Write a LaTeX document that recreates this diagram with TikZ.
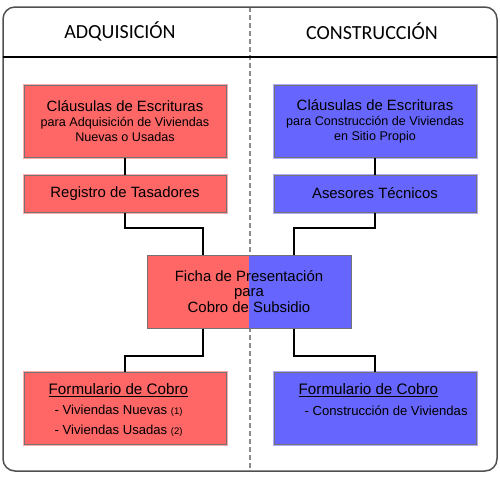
\documentclass[tikz,border=0pt]{standalone}
\usepackage{fontspec}
\setmainfont{Liberation Sans}
\newfontfamily\headfont{Carlito}
\definecolor{redc}{RGB}{255,102,102}
\definecolor{bluec}{RGB}{102,102,255}
\definecolor{framec}{RGB}{80,80,80}
\definecolor{dashc}{RGB}{140,140,140}

\tikzset{
  box/.style={draw=black!55, line width=1pt, minimum width=202pt, inner sep=0pt, align=center},
  redbox/.style={box, fill=redc, preaction={draw=redc!55, line width=3pt}},
  bluebox/.style={box, fill=bluec, preaction={draw=bluec!55, line width=3pt}},
  big/.style={font=\fontsize{14.9}{15}\selectfont},
  link/.style={draw=black, line width=2pt},
  txt/.style={anchor=west, inner sep=0pt, font=\fontsize{13.1}{14}\selectfont},
}
\newcommand\sub[1]{{\fontsize{12.6}{14.5}\selectfont #1}}
\newcommand\num[1]{{\fontsize{9.5}{10}\selectfont #1}}

\begin{document}
\begin{tikzpicture}[x=1pt,y=-1pt]
\useasboundingbox (0,0) rectangle (500,480);
% frame, header rule and the dashed divider
\draw[dashc, line width=1.5pt, dash pattern=on 5pt off 3pt] (250,7) -- (250,471);
\draw[framec, line width=1.5pt, rounded corners=12pt] (3,7) rectangle (497,471);
\draw[black, line width=1.2pt] (3,57) -- (497,57);
\node[font=\headfont\fontsize{20}{22}\selectfont] (hadq) at (120,31) {ADQUISICIÓN};
\node[font=\headfont\fontsize{20}{22}\selectfont] (hcon) at (372,31) {CONSTRUCCIÓN};
% left column
\node[redbox, minimum height=72pt, big] (top1) at (125,121)
  {Cláusulas de Escrituras\\\sub{para Adquisición de Viviendas}\\\sub{Nuevas o Usadas}};
\node[redbox, minimum height=37pt, big] (reg1) at (125,193.5) {Registro de Tasadores};
% right column
\node[bluebox, minimum height=72pt, big] (top2) at (375,121)
  {Cláusulas de Escrituras\\\sub{para Construcción de Viviendas}\\\sub{en Sitio Propio}};
\node[bluebox, minimum height=37pt, big] (reg2) at (375,193.5) {Asesores Técnicos};
% centre box, half red and half blue
\node[box, minimum width=204pt, minimum height=73pt,
  preaction={fill=redc},
  path picture={\fill[bluec] (path picture bounding box.north) rectangle (path picture bounding box.south east);}]
  (ficha) at (249,291.5) {};
\node[align=center, inner sep=0pt, font=\fontsize{14.9}{15.5}\selectfont] (fichat) at (ficha)
  {Ficha de Presentación\\para\\Cobro de Subsidio};
% bottom boxes
\node[redbox, minimum height=72pt] (form1) at (125,408) {};
\node[bluebox, minimum height=72pt] (form2) at (375,408) {};
\node[txt, font=\fontsize{15.2}{16}\selectfont] (f1a) at ([xshift=25pt,yshift=-19pt]form1.north west) {\underline{Formulario de Cobro}};
\node[txt] (f1b) at ([xshift=31pt,yshift=-39pt]form1.north west) {- Viviendas Nuevas \num{(1)}};
\node[txt] (f1c) at ([xshift=31pt,yshift=-59pt]form1.north west) {- Viviendas Usadas \num{(2)}};
\node[txt, font=\fontsize{15.2}{16}\selectfont] (f2a) at ([xshift=25pt,yshift=-19pt]form2.north west) {\underline{Formulario de Cobro}};
\node[txt] (f2b) at ([xshift=31pt,yshift=-39pt]form2.north west) {- Construcción de Viviendas};
% connectors
\draw[link] (top1) -- (reg1);
\draw[link] (top2) -- (reg2);
\draw[link] (reg1.south) -- ++(0,15) -| ([xshift=-46pt]ficha.north);
\draw[link] (reg2.south) -- ++(0,15) -| ([xshift=45pt]ficha.north);
\draw[link] ([xshift=-46pt]ficha.south) -- ++(0,27) -| (form1.north);
\draw[link] ([xshift=45pt]ficha.south) -- ++(0,27) -| (form2.north);
\end{tikzpicture}
\end{document}
